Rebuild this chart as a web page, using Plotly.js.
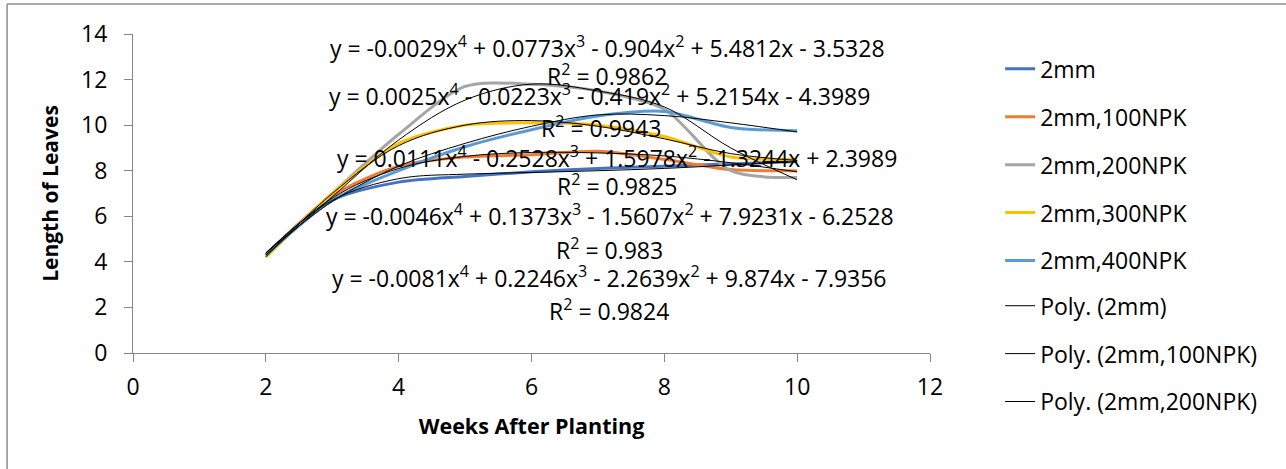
<!DOCTYPE html>
<html>
<head>
<meta charset="utf-8">
<script src="https://cdn.plot.ly/plotly-3.0.1.min.js"></script>
<style>
  html, body { margin: 0; padding: 0; background: #ffffff; }
  #chart { width: 1286px; height: 469px; }
</style>
</head>
<body>
<div id="chart"></div>
<script>
// ---- data ----
const weeks = [2, 3, 4, 5, 6, 7, 8, 9, 10];

const len2mm    = [4.3, 6.7, 7.5, 7.75, 7.95, 8.1, 8.2, 8.3, 8.4];
const len100NPK = [4.3, 6.9, 8.2, 8.6, 8.7, 8.85, 8.5, 8.05, 8.0];
const len200NPK = [4.3, 7.0, 9.6, 11.7, 11.8, 11.5, 10.7, 8.0, 7.7];
const len300NPK = [4.2, 7.0, 9.2, 10.0, 10.1, 10.0, 9.5, 8.6, 8.5];
const len400NPK = [4.3, 6.7, 8.0, 9.05, 9.8, 10.4, 10.6, 9.9, 9.75];

// polynomial trendlines
const poly2mm    = [4.4, 6.7, 7.65, 7.85, 7.92, 8.0, 8.1, 8.25, 8.4];
const poly100NPK = [4.38, 6.8, 8.1, 8.63, 8.8, 8.78, 8.65, 8.35, 7.95];
const poly200NPK = [4.3, 6.85, 9.35, 11.1, 11.8, 11.5, 10.8, 9.0, 7.6];
const poly300NPK = [4.22, 7.0, 9.1, 10.0, 10.2, 9.95, 9.4, 8.75, 8.45];
const poly400NPK = [4.39, 6.65, 8.2, 9.2, 9.95, 10.45, 10.42, 10.1, 9.7];

const seriesNames = ["2mm", "2mm,100NPK", "2mm,200NPK", "2mm,300NPK", "2mm,400NPK"];
const seriesValues = [len2mm, len100NPK, len200NPK, len300NPK, len400NPK];
const seriesColors = ["#4472C4", "#ED7D31", "#A5A5A5", "#FFC000", "#5B9BD5"];
const trendValues = [poly2mm, poly100NPK, poly200NPK, poly300NPK, poly400NPK];

// trendline equation labels
const eqTexts = [
  "y = -0.0029x<sup>4</sup> + 0.0773x<sup>3</sup> - 0.904x<sup>2</sup> + 5.4812x - 3.5328",
  "y = 0.0025x<sup>4</sup> - 0.0223x<sup>3</sup> - 0.419x<sup>2</sup> + 5.2154x - 4.3989",
  "y = 0.0111x<sup>4</sup> - 0.2528x<sup>3</sup> + 1.5978x<sup>2</sup> - 1.3244x + 2.3989",
  "y = -0.0046x<sup>4</sup> + 0.1373x<sup>3</sup> - 1.5607x<sup>2</sup> + 7.9231x - 6.2528",
  "y = -0.0081x<sup>4</sup> + 0.2246x<sup>3</sup> - 2.2639x<sup>2</sup> + 9.874x - 7.9356"
];
const r2Texts = ["R<sup>2</sup> = 0.9862", "R<sup>2</sup> = 0.9943", "R<sup>2</sup> = 0.9825", "R<sup>2</sup> = 0.983", "R<sup>2</sup> = 0.9824"];

// ---- label placement (data coords) ----
const eqPos = [[7.14, 13.43], [7.03, 11.32], [7.29, 8.61], [7.18, 6.06], [7.17, 3.35]];
const r2Pos = [[7.14, 12.20], [7.05, 9.92], [7.29, 7.38], [7.18, 4.57], [7.17, 1.90]];

const FONT = "'Open Sans', 'Noto Sans', sans-serif";
const FS = 23;
const TFS = 21;
const traces = [];
seriesNames.forEach((name, i) => {
  traces.push({
    x: weeks, y: seriesValues[i], name: name, type: "scatter", mode: "lines",
    line: { color: seriesColors[i], width: 3, shape: "spline", smoothing: 0.8 },
    legendgroup: "g" + i, legend: "legend"
  });
});
seriesNames.forEach((name, i) => {
  traces.push({
    x: weeks, y: trendValues[i], name: "Poly. (" + name + ")", type: "scatter", mode: "lines",
    line: { color: "#000000", width: 1, shape: "spline", smoothing: 1 },
    legendgroup: "t" + i, legend: "legend2", showlegend: i < 3
  });
});

const annotations = [];
eqTexts.forEach((t, i) => {
  annotations.push({ x: eqPos[i][0], y: eqPos[i][1], xref: "x", yref: "y", text: t,
    showarrow: false, font: { family: FONT, size: FS, color: "#000" }, xanchor: "center", yanchor: "middle" });
  annotations.push({ x: r2Pos[i][0], y: r2Pos[i][1], xref: "x", yref: "y", text: r2Texts[i],
    showarrow: false, font: { family: FONT, size: FS, color: "#000" }, xanchor: "center", yanchor: "middle" });
});

const legendStyle = (yTop) => ({
  x: 1.088, xanchor: "left", y: yTop, yanchor: "top",
  font: { family: FONT, size: FS, color: "#000" },
  tracegroupgap: 15, traceorder: "grouped", bgcolor: "rgba(0,0,0,0)", borderwidth: 0
});

const layout = {
  width: 1286, height: 469,
  margin: { l: 133, r: 356, t: 34, b: 116, autoexpand: false },
  paper_bgcolor: "#ffffff", plot_bgcolor: "#ffffff",
  font: { family: FONT, size: FS, color: "#000" },
  showlegend: true,
  legend: legendStyle(0.958),
  legend2: legendStyle(0.2155),
  xaxis: {
    range: [0, 12], dtick: 2, tick0: 0, showgrid: false, zeroline: false,
    showline: true, linecolor: "#868686", linewidth: 1,
    ticks: "outside", ticklen: 8, tickcolor: "#868686", ticklabelstandoff: 5,
    tickfont: { family: FONT, size: FS, color: "#000" },
    title: { text: "<b>Weeks After Planting</b>", font: { family: FONT, size: 21.5, color: "#000" }, standoff: 18 }
  },
  yaxis: {
    range: [0, 14], dtick: 2, tick0: 0, showgrid: false, zeroline: false,
    showline: true, linecolor: "#868686", linewidth: 1,
    ticks: "outside", ticklen: 8, tickcolor: "#868686", ticklabelstandoff: 12,
    tickfont: { family: FONT, size: FS, color: "#000" },
    title: { text: "<b>Length of Leaves</b>", font: { family: FONT, size: TFS, color: "#000" }, standoff: 16 }
  },
  annotations: annotations,
  shapes: [
    { type: "line", xref: "paper", yref: "paper", x0: -0.158, x1: 1.45, y0: 1.094, y1: 1.094, line: { color: "#8c8c8c", width: 1.5 } },
    { type: "line", xref: "paper", yref: "paper", x0: -0.158, x1: -0.158, y0: 1.094, y1: -0.37, line: { color: "#8c8c8c", width: 1.5 } }
  ]
};

Plotly.newPlot("chart", traces, layout, { displayModeBar: false, staticPlot: true });
</script>
</body>
</html>
